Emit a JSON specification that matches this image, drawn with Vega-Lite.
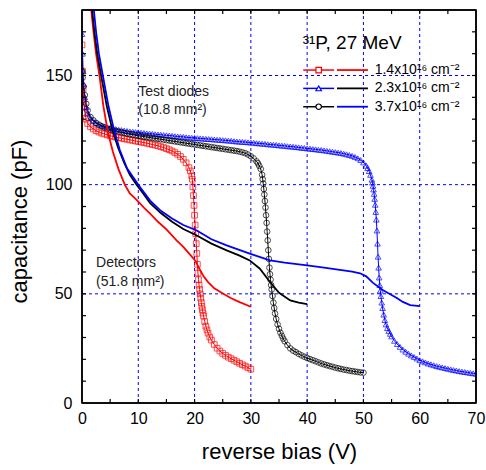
{
  "$schema": "https://vega.github.io/schema/vega-lite/v6.json",
  "width": 394,
  "height": 393,
  "autosize": {"type": "none"},
  "padding": {"left": 82, "top": 10, "right": 10, "bottom": 67},
  "config": {
    "font": "Liberation Sans",
    "view": {"stroke": "#000000", "strokeWidth": 1.5},
    "axis": {
      "labelColor": "#000000", "labelFont": "Liberation Sans", "labelFontSize": 16,
      "titleFont": "Liberation Sans", "titleFontSize": 22, "titleFontWeight": "normal", "titleColor": "#000000",
      "labelOverlap": false, "labelFlush": false, "grid": false
    }
  },
  "datasets": {
    "grid": [
      {"k":"x","g":10},{"k":"x","g":20},{"k":"x","g":30},{"k":"x","g":40},{"k":"x","g":50},{"k":"x","g":60},
      {"k":"y","g":50},{"k":"y","g":100},{"k":"y","g":150}
    ],
    "xt": [
      {"p":5,"m":0},{"p":10,"m":1},{"p":15,"m":0},{"p":20,"m":1},{"p":25,"m":0},{"p":30,"m":1},{"p":35,"m":0},{"p":40,"m":1},{"p":45,"m":0},{"p":50,"m":1},{"p":55,"m":0},{"p":60,"m":1},{"p":65,"m":0}
    ],
    "yt": [
      {"p":10,"m":0},{"p":20,"m":0},{"p":30,"m":0},{"p":40,"m":0},{"p":50,"m":1},{"p":60,"m":0},{"p":70,"m":0},{"p":80,"m":0},{"p":90,"m":0},{"p":100,"m":1},{"p":110,"m":0},{"p":120,"m":0},{"p":130,"m":0},{"p":140,"m":0},{"p":150,"m":1},{"p":160,"m":0},{"p":170,"m":0}
    ],
    "td": [
      {"s":"TD 1.4","v":0,"c":164},{"s":"TD 1.4","v":0.1,"c":152},{"s":"TD 1.4","v":0.2,"c":144},{"s":"TD 1.4","v":0.3,"c":139},{"s":"TD 1.4","v":0.4,"c":135.5},{"s":"TD 1.4","v":0.5,"c":133},{"s":"TD 1.4","v":0.75,"c":130},{"s":"TD 1.4","v":1,"c":128},{"s":"TD 1.4","v":1.5,"c":126.5},{"s":"TD 1.4","v":2,"c":125.5},{"s":"TD 1.4","v":2.5,"c":124.7},{"s":"TD 1.4","v":3,"c":124.1},{"s":"TD 1.4","v":3.5,"c":123.6},{"s":"TD 1.4","v":4,"c":123.2},{"s":"TD 1.4","v":4.5,"c":122.8},{"s":"TD 1.4","v":5,"c":122.4},{"s":"TD 1.4","v":5.5,"c":122.1},{"s":"TD 1.4","v":6,"c":121.8},{"s":"TD 1.4","v":6.5,"c":121.5},{"s":"TD 1.4","v":7,"c":121.3},{"s":"TD 1.4","v":7.5,"c":121.0},{"s":"TD 1.4","v":8,"c":120.8},{"s":"TD 1.4","v":8.5,"c":120.5},{"s":"TD 1.4","v":9,"c":120.3},{"s":"TD 1.4","v":9.5,"c":120.0},{"s":"TD 1.4","v":10,"c":119.8},{"s":"TD 1.4","v":10.5,"c":119.5},{"s":"TD 1.4","v":11,"c":119.3},{"s":"TD 1.4","v":11.5,"c":119.0},{"s":"TD 1.4","v":12,"c":118.7},{"s":"TD 1.4","v":12.5,"c":118.4},{"s":"TD 1.4","v":13,"c":118.1},{"s":"TD 1.4","v":13.5,"c":117.8},{"s":"TD 1.4","v":14,"c":117.4},{"s":"TD 1.4","v":14.5,"c":117.0},{"s":"TD 1.4","v":15,"c":116.5},{"s":"TD 1.4","v":15.5,"c":116.0},{"s":"TD 1.4","v":16,"c":115.4},{"s":"TD 1.4","v":16.5,"c":114.7},{"s":"TD 1.4","v":17,"c":113.9},{"s":"TD 1.4","v":17.5,"c":112.9},{"s":"TD 1.4","v":18,"c":111.6},{"s":"TD 1.4","v":18.5,"c":110.0},{"s":"TD 1.4","v":19,"c":107.8},{"s":"TD 1.4","v":19.25,"c":106.3},{"s":"TD 1.4","v":19.5,"c":104.0},{"s":"TD 1.4","v":19.6,"c":102.5},{"s":"TD 1.4","v":19.7,"c":99},{"s":"TD 1.4","v":19.8,"c":95},{"s":"TD 1.4","v":19.9,"c":90.5},{"s":"TD 1.4","v":20,"c":86},{"s":"TD 1.4","v":20.1,"c":81.5},{"s":"TD 1.4","v":20.2,"c":77.5},{"s":"TD 1.4","v":20.3,"c":73},{"s":"TD 1.4","v":20.4,"c":68.5},{"s":"TD 1.4","v":20.5,"c":63.5},{"s":"TD 1.4","v":20.6,"c":59.5},{"s":"TD 1.4","v":20.7,"c":56.5},{"s":"TD 1.4","v":20.8,"c":54},{"s":"TD 1.4","v":20.9,"c":52},{"s":"TD 1.4","v":21,"c":50},{"s":"TD 1.4","v":21.1,"c":48},{"s":"TD 1.4","v":21.2,"c":46},{"s":"TD 1.4","v":21.3,"c":44.3},{"s":"TD 1.4","v":21.4,"c":42.7},{"s":"TD 1.4","v":21.5,"c":41.2},{"s":"TD 1.4","v":21.6,"c":39.8},{"s":"TD 1.4","v":21.8,"c":37.3},{"s":"TD 1.4","v":22,"c":35.2},{"s":"TD 1.4","v":22.2,"c":33.5},{"s":"TD 1.4","v":22.4,"c":32},{"s":"TD 1.4","v":22.7,"c":30.2},{"s":"TD 1.4","v":23,"c":28.8},{"s":"TD 1.4","v":23.5,"c":26.8},{"s":"TD 1.4","v":24,"c":25.1},{"s":"TD 1.4","v":24.5,"c":23.8},{"s":"TD 1.4","v":25,"c":22.7},{"s":"TD 1.4","v":25.5,"c":21.8},{"s":"TD 1.4","v":26,"c":21},{"s":"TD 1.4","v":26.5,"c":20.3},{"s":"TD 1.4","v":27,"c":19.6},{"s":"TD 1.4","v":27.5,"c":18.9},{"s":"TD 1.4","v":28,"c":18.2},{"s":"TD 1.4","v":28.5,"c":17.5},{"s":"TD 1.4","v":29,"c":16.9},{"s":"TD 1.4","v":29.5,"c":16.2},{"s":"TD 1.4","v":30,"c":15.5},
      {"s":"TD 2.3","v":0,"c":169},{"s":"TD 2.3","v":0.1,"c":160},{"s":"TD 2.3","v":0.2,"c":152},{"s":"TD 2.3","v":0.3,"c":146},{"s":"TD 2.3","v":0.5,"c":140},{"s":"TD 2.3","v":0.75,"c":135.5},{"s":"TD 2.3","v":1,"c":133},{"s":"TD 2.3","v":1.5,"c":130.5},{"s":"TD 2.3","v":2,"c":129.2},{"s":"TD 2.3","v":2.5,"c":128.3},{"s":"TD 2.3","v":3,"c":127.6},{"s":"TD 2.3","v":3.5,"c":127.1},{"s":"TD 2.3","v":4,"c":126.7},{"s":"TD 2.3","v":4.5,"c":126.3},{"s":"TD 2.3","v":5,"c":126},{"s":"TD 2.3","v":5.5,"c":125.7},{"s":"TD 2.3","v":6,"c":125.5},{"s":"TD 2.3","v":6.5,"c":125.2},{"s":"TD 2.3","v":7,"c":125},{"s":"TD 2.3","v":7.5,"c":124.8},{"s":"TD 2.3","v":8,"c":124.6},{"s":"TD 2.3","v":8.5,"c":124.4},{"s":"TD 2.3","v":9,"c":124.3},{"s":"TD 2.3","v":9.5,"c":124.1},{"s":"TD 2.3","v":10,"c":124},{"s":"TD 2.3","v":10.5,"c":123.8},{"s":"TD 2.3","v":11,"c":123.7},{"s":"TD 2.3","v":11.5,"c":123.5},{"s":"TD 2.3","v":12,"c":123.4},{"s":"TD 2.3","v":12.5,"c":123.3},{"s":"TD 2.3","v":13,"c":123.1},{"s":"TD 2.3","v":13.5,"c":123},{"s":"TD 2.3","v":14,"c":122.9},{"s":"TD 2.3","v":14.5,"c":122.7},{"s":"TD 2.3","v":15,"c":122.6},{"s":"TD 2.3","v":15.5,"c":122.5},{"s":"TD 2.3","v":16,"c":122.4},{"s":"TD 2.3","v":16.5,"c":122.2},{"s":"TD 2.3","v":17,"c":122.1},{"s":"TD 2.3","v":17.5,"c":122},{"s":"TD 2.3","v":18,"c":121.9},{"s":"TD 2.3","v":18.5,"c":121.7},{"s":"TD 2.3","v":19,"c":121.6},{"s":"TD 2.3","v":19.5,"c":121.5},{"s":"TD 2.3","v":20,"c":121.4},{"s":"TD 2.3","v":20.5,"c":121.3},{"s":"TD 2.3","v":21,"c":121.2},{"s":"TD 2.3","v":21.5,"c":121.1},{"s":"TD 2.3","v":22,"c":121},{"s":"TD 2.3","v":22.5,"c":120.9},{"s":"TD 2.3","v":23,"c":120.8},{"s":"TD 2.3","v":23.5,"c":120.7},{"s":"TD 2.3","v":24,"c":120.6},{"s":"TD 2.3","v":24.5,"c":120.5},{"s":"TD 2.3","v":25,"c":120.4},{"s":"TD 2.3","v":25.5,"c":120.3},{"s":"TD 2.3","v":26,"c":120.2},{"s":"TD 2.3","v":26.5,"c":120.1},{"s":"TD 2.3","v":27,"c":119.9},{"s":"TD 2.3","v":27.5,"c":119.8},{"s":"TD 2.3","v":28,"c":119.7},{"s":"TD 2.3","v":28.5,"c":119.6},{"s":"TD 2.3","v":29,"c":119.5},{"s":"TD 2.3","v":29.5,"c":119.4},{"s":"TD 2.3","v":30,"c":119.3},{"s":"TD 2.3","v":30.5,"c":119.2},{"s":"TD 2.3","v":31,"c":119},{"s":"TD 2.3","v":31.5,"c":118.9},{"s":"TD 2.3","v":32,"c":118.8},{"s":"TD 2.3","v":32.5,"c":118.7},{"s":"TD 2.3","v":33,"c":118.5},{"s":"TD 2.3","v":33.5,"c":118.4},{"s":"TD 2.3","v":34,"c":118.3},{"s":"TD 2.3","v":34.5,"c":118.2},{"s":"TD 2.3","v":35,"c":118},{"s":"TD 2.3","v":35.5,"c":117.9},{"s":"TD 2.3","v":36,"c":117.8},{"s":"TD 2.3","v":36.5,"c":117.6},{"s":"TD 2.3","v":37,"c":117.5},{"s":"TD 2.3","v":37.5,"c":117.4},{"s":"TD 2.3","v":38,"c":117.2},{"s":"TD 2.3","v":38.5,"c":117.1},{"s":"TD 2.3","v":39,"c":116.9},{"s":"TD 2.3","v":39.5,"c":116.8},{"s":"TD 2.3","v":40,"c":116.6},{"s":"TD 2.3","v":40.5,"c":116.5},{"s":"TD 2.3","v":41,"c":116.3},{"s":"TD 2.3","v":41.5,"c":116.2},{"s":"TD 2.3","v":42,"c":116},{"s":"TD 2.3","v":42.5,"c":115.9},{"s":"TD 2.3","v":43,"c":115.7},{"s":"TD 2.3","v":43.5,"c":115.5},{"s":"TD 2.3","v":44,"c":115.3},{"s":"TD 2.3","v":44.5,"c":115.1},{"s":"TD 2.3","v":45,"c":114.9},{"s":"TD 2.3","v":45.5,"c":114.7},{"s":"TD 2.3","v":46,"c":114.5},{"s":"TD 2.3","v":46.5,"c":114.2},{"s":"TD 2.3","v":47,"c":113.9},{"s":"TD 2.3","v":47.5,"c":113.6},{"s":"TD 2.3","v":48,"c":113.2},{"s":"TD 2.3","v":48.5,"c":112.7},{"s":"TD 2.3","v":49,"c":112.1},{"s":"TD 2.3","v":49.5,"c":111.3},{"s":"TD 2.3","v":50,"c":110.2},{"s":"TD 2.3","v":50.5,"c":108.7},{"s":"TD 2.3","v":50.75,"c":107.6},{"s":"TD 2.3","v":51,"c":106.2},{"s":"TD 2.3","v":51.25,"c":104.5},{"s":"TD 2.3","v":51.5,"c":102.3},{"s":"TD 2.3","v":51.6,"c":101},{"s":"TD 2.3","v":51.7,"c":99.5},{"s":"TD 2.3","v":51.8,"c":97.8},{"s":"TD 2.3","v":51.9,"c":95.8},{"s":"TD 2.3","v":52,"c":93.5},{"s":"TD 2.3","v":52.1,"c":90.8},{"s":"TD 2.3","v":52.2,"c":87.5},{"s":"TD 2.3","v":52.3,"c":84},{"s":"TD 2.3","v":52.4,"c":79},{"s":"TD 2.3","v":52.5,"c":73},{"s":"TD 2.3","v":52.6,"c":67},{"s":"TD 2.3","v":52.7,"c":62},{"s":"TD 2.3","v":52.8,"c":57.5},{"s":"TD 2.3","v":52.9,"c":54},{"s":"TD 2.3","v":53,"c":51.5},{"s":"TD 2.3","v":53.1,"c":49},{"s":"TD 2.3","v":53.25,"c":46},{"s":"TD 2.3","v":53.4,"c":43.5},{"s":"TD 2.3","v":53.6,"c":40.5},{"s":"TD 2.3","v":53.8,"c":38},{"s":"TD 2.3","v":54,"c":36},{"s":"TD 2.3","v":54.25,"c":34.3},{"s":"TD 2.3","v":54.5,"c":33},{"s":"TD 2.3","v":54.75,"c":31.7},{"s":"TD 2.3","v":55,"c":30.5},{"s":"TD 2.3","v":55.5,"c":28.5},{"s":"TD 2.3","v":56,"c":27},{"s":"TD 2.3","v":56.5,"c":25.7},{"s":"TD 2.3","v":57,"c":24.5},{"s":"TD 2.3","v":57.5,"c":23.5},{"s":"TD 2.3","v":58,"c":22.6},{"s":"TD 2.3","v":58.5,"c":21.8},{"s":"TD 2.3","v":59,"c":21.1},{"s":"TD 2.3","v":59.5,"c":20.4},{"s":"TD 2.3","v":60,"c":19.6},{"s":"TD 2.3","v":60.5,"c":19.1},{"s":"TD 2.3","v":61,"c":18.6},{"s":"TD 2.3","v":61.5,"c":18.1},{"s":"TD 2.3","v":62,"c":17.7},{"s":"TD 2.3","v":62.5,"c":17.3},{"s":"TD 2.3","v":63,"c":16.9},{"s":"TD 2.3","v":63.5,"c":16.6},{"s":"TD 2.3","v":64,"c":16.3},{"s":"TD 2.3","v":64.5,"c":16},{"s":"TD 2.3","v":65,"c":15.7},{"s":"TD 2.3","v":65.5,"c":15.4},{"s":"TD 2.3","v":66,"c":15.1},{"s":"TD 2.3","v":66.5,"c":14.9},{"s":"TD 2.3","v":67,"c":14.6},{"s":"TD 2.3","v":67.5,"c":14.4},{"s":"TD 2.3","v":68,"c":14.2},{"s":"TD 2.3","v":68.5,"c":14},{"s":"TD 2.3","v":69,"c":13.8},{"s":"TD 2.3","v":69.5,"c":13.6},{"s":"TD 2.3","v":70,"c":13.4},
      {"s":"TD 3.7","v":0,"c":152},{"s":"TD 3.7","v":0.1,"c":149},{"s":"TD 3.7","v":0.25,"c":145},{"s":"TD 3.7","v":0.5,"c":141},{"s":"TD 3.7","v":0.75,"c":137},{"s":"TD 3.7","v":1,"c":134},{"s":"TD 3.7","v":1.5,"c":131},{"s":"TD 3.7","v":2,"c":129.5},{"s":"TD 3.7","v":2.5,"c":128.3},{"s":"TD 3.7","v":3,"c":127.5},{"s":"TD 3.7","v":3.5,"c":126.8},{"s":"TD 3.7","v":4,"c":126.2},{"s":"TD 3.7","v":4.5,"c":125.7},{"s":"TD 3.7","v":5,"c":125.3},{"s":"TD 3.7","v":5.5,"c":124.9},{"s":"TD 3.7","v":6,"c":124.6},{"s":"TD 3.7","v":6.5,"c":124.3},{"s":"TD 3.7","v":7,"c":124},{"s":"TD 3.7","v":7.5,"c":123.7},{"s":"TD 3.7","v":8,"c":123.4},{"s":"TD 3.7","v":8.5,"c":123.1},{"s":"TD 3.7","v":9,"c":122.9},{"s":"TD 3.7","v":9.5,"c":122.6},{"s":"TD 3.7","v":10,"c":122.4},{"s":"TD 3.7","v":10.5,"c":122.2},{"s":"TD 3.7","v":11,"c":122},{"s":"TD 3.7","v":11.5,"c":121.8},{"s":"TD 3.7","v":12,"c":121.6},{"s":"TD 3.7","v":12.5,"c":121.4},{"s":"TD 3.7","v":13,"c":121.2},{"s":"TD 3.7","v":13.5,"c":121},{"s":"TD 3.7","v":14,"c":120.8},{"s":"TD 3.7","v":14.5,"c":120.6},{"s":"TD 3.7","v":15,"c":120.4},{"s":"TD 3.7","v":15.5,"c":120.2},{"s":"TD 3.7","v":16,"c":120},{"s":"TD 3.7","v":16.5,"c":119.8},{"s":"TD 3.7","v":17,"c":119.6},{"s":"TD 3.7","v":17.5,"c":119.4},{"s":"TD 3.7","v":18,"c":119.2},{"s":"TD 3.7","v":18.5,"c":119},{"s":"TD 3.7","v":19,"c":118.8},{"s":"TD 3.7","v":19.5,"c":118.6},{"s":"TD 3.7","v":20,"c":118.4},{"s":"TD 3.7","v":20.5,"c":118.2},{"s":"TD 3.7","v":21,"c":118},{"s":"TD 3.7","v":21.5,"c":117.8},{"s":"TD 3.7","v":22,"c":117.6},{"s":"TD 3.7","v":22.5,"c":117.4},{"s":"TD 3.7","v":23,"c":117.2},{"s":"TD 3.7","v":23.5,"c":117},{"s":"TD 3.7","v":24,"c":116.8},{"s":"TD 3.7","v":24.5,"c":116.6},{"s":"TD 3.7","v":25,"c":116.4},{"s":"TD 3.7","v":25.5,"c":116.2},{"s":"TD 3.7","v":26,"c":116},{"s":"TD 3.7","v":26.5,"c":115.8},{"s":"TD 3.7","v":27,"c":115.6},{"s":"TD 3.7","v":27.5,"c":115.4},{"s":"TD 3.7","v":28,"c":115.1},{"s":"TD 3.7","v":28.5,"c":114.8},{"s":"TD 3.7","v":29,"c":114.4},{"s":"TD 3.7","v":29.5,"c":113.8},{"s":"TD 3.7","v":30,"c":113},{"s":"TD 3.7","v":30.5,"c":112},{"s":"TD 3.7","v":31,"c":110.7},{"s":"TD 3.7","v":31.25,"c":109.8},{"s":"TD 3.7","v":31.5,"c":108.6},{"s":"TD 3.7","v":31.75,"c":107.2},{"s":"TD 3.7","v":32,"c":104.5},{"s":"TD 3.7","v":32.1,"c":102.5},{"s":"TD 3.7","v":32.2,"c":100.5},{"s":"TD 3.7","v":32.3,"c":98},{"s":"TD 3.7","v":32.4,"c":95.5},{"s":"TD 3.7","v":32.5,"c":92.5},{"s":"TD 3.7","v":32.6,"c":89.5},{"s":"TD 3.7","v":32.7,"c":86},{"s":"TD 3.7","v":32.8,"c":82.5},{"s":"TD 3.7","v":32.9,"c":78.5},{"s":"TD 3.7","v":33,"c":74.5},{"s":"TD 3.7","v":33.1,"c":70},{"s":"TD 3.7","v":33.2,"c":66},{"s":"TD 3.7","v":33.3,"c":62},{"s":"TD 3.7","v":33.4,"c":59},{"s":"TD 3.7","v":33.5,"c":56.5},{"s":"TD 3.7","v":33.6,"c":54},{"s":"TD 3.7","v":33.7,"c":52},{"s":"TD 3.7","v":33.85,"c":49},{"s":"TD 3.7","v":34,"c":46},{"s":"TD 3.7","v":34.15,"c":43.5},{"s":"TD 3.7","v":34.3,"c":41},{"s":"TD 3.7","v":34.5,"c":38.5},{"s":"TD 3.7","v":34.75,"c":36},{"s":"TD 3.7","v":35,"c":34},{"s":"TD 3.7","v":35.25,"c":32.2},{"s":"TD 3.7","v":35.5,"c":30.8},{"s":"TD 3.7","v":35.75,"c":29.5},{"s":"TD 3.7","v":36,"c":28.3},{"s":"TD 3.7","v":36.5,"c":26.5},{"s":"TD 3.7","v":37,"c":25},{"s":"TD 3.7","v":37.5,"c":24},{"s":"TD 3.7","v":38,"c":23.3},{"s":"TD 3.7","v":38.5,"c":22.5},{"s":"TD 3.7","v":39,"c":21.8},{"s":"TD 3.7","v":39.5,"c":21.2},{"s":"TD 3.7","v":40,"c":20.6},{"s":"TD 3.7","v":40.5,"c":20.1},{"s":"TD 3.7","v":41,"c":19.6},{"s":"TD 3.7","v":41.5,"c":19.1},{"s":"TD 3.7","v":42,"c":18.6},{"s":"TD 3.7","v":42.5,"c":18.1},{"s":"TD 3.7","v":43,"c":17.7},{"s":"TD 3.7","v":43.5,"c":17.3},{"s":"TD 3.7","v":44,"c":16.9},{"s":"TD 3.7","v":44.5,"c":16.6},{"s":"TD 3.7","v":45,"c":16.2},{"s":"TD 3.7","v":45.5,"c":15.9},{"s":"TD 3.7","v":46,"c":15.6},{"s":"TD 3.7","v":46.5,"c":15.3},{"s":"TD 3.7","v":47,"c":15.1},{"s":"TD 3.7","v":47.5,"c":14.8},{"s":"TD 3.7","v":48,"c":14.6},{"s":"TD 3.7","v":48.5,"c":14.4},{"s":"TD 3.7","v":49,"c":14.2},{"s":"TD 3.7","v":49.5,"c":14},{"s":"TD 3.7","v":50,"c":13.9}
    ],
    "det": [
      {"s":"DET 1.4","v":1.65,"c":180},{"s":"DET 1.4","v":2,"c":171},{"s":"DET 1.4","v":2.5,"c":160},{"s":"DET 1.4","v":3.1,"c":150},{"s":"DET 1.4","v":3.8,"c":136},{"s":"DET 1.4","v":4.6,"c":124},{"s":"DET 1.4","v":5.5,"c":115},{"s":"DET 1.4","v":6.5,"c":107},{"s":"DET 1.4","v":7.6,"c":100},{"s":"DET 1.4","v":8.5,"c":96},{"s":"DET 1.4","v":9.7,"c":93},{"s":"DET 1.4","v":11,"c":89.5},{"s":"DET 1.4","v":12.1,"c":86.7},{"s":"DET 1.4","v":13.5,"c":83},{"s":"DET 1.4","v":15,"c":79.5},{"s":"DET 1.4","v":16.8,"c":74.5},{"s":"DET 1.4","v":18,"c":71.5},{"s":"DET 1.4","v":19,"c":68.5},{"s":"DET 1.4","v":20.1,"c":65.3},{"s":"DET 1.4","v":21,"c":60.8},{"s":"DET 1.4","v":21.6,"c":58},{"s":"DET 1.4","v":22.4,"c":55.4},{"s":"DET 1.4","v":23.5,"c":52.5},{"s":"DET 1.4","v":25.1,"c":50},{"s":"DET 1.4","v":26.5,"c":48},{"s":"DET 1.4","v":28,"c":46.2},{"s":"DET 1.4","v":30,"c":44.1},
      {"s":"DET 2.3","v":1.8,"c":180},{"s":"DET 2.3","v":2.2,"c":170},{"s":"DET 2.3","v":2.7,"c":160},{"s":"DET 2.3","v":3.4,"c":150},{"s":"DET 2.3","v":4.4,"c":136},{"s":"DET 2.3","v":5.4,"c":125},{"s":"DET 2.3","v":6.4,"c":117},{"s":"DET 2.3","v":7.5,"c":110},{"s":"DET 2.3","v":8.5,"c":104.5},{"s":"DET 2.3","v":9.7,"c":100},{"s":"DET 2.3","v":11,"c":95.5},{"s":"DET 2.3","v":12.1,"c":91.5},{"s":"DET 2.3","v":14,"c":87},{"s":"DET 2.3","v":16,"c":83},{"s":"DET 2.3","v":18,"c":79.7},{"s":"DET 2.3","v":20.4,"c":76.7},{"s":"DET 2.3","v":23,"c":73},{"s":"DET 2.3","v":25.7,"c":69.9},{"s":"DET 2.3","v":28,"c":67.5},{"s":"DET 2.3","v":29.8,"c":65.3},{"s":"DET 2.3","v":31.6,"c":61.5},{"s":"DET 2.3","v":33.4,"c":55.4},{"s":"DET 2.3","v":35,"c":50.5},{"s":"DET 2.3","v":37,"c":47},{"s":"DET 2.3","v":38.5,"c":46},{"s":"DET 2.3","v":40,"c":45.3},
      {"s":"DET 3.7","v":2.1,"c":180},{"s":"DET 3.7","v":2.5,"c":170},{"s":"DET 3.7","v":3,"c":160},{"s":"DET 3.7","v":3.7,"c":150},{"s":"DET 3.7","v":4.7,"c":136},{"s":"DET 3.7","v":5.7,"c":125},{"s":"DET 3.7","v":6.7,"c":116},{"s":"DET 3.7","v":8,"c":107.5},{"s":"DET 3.7","v":10,"c":100},{"s":"DET 3.7","v":12.1,"c":92.7},{"s":"DET 3.7","v":14,"c":88},{"s":"DET 3.7","v":16,"c":84.5},{"s":"DET 3.7","v":18,"c":81.5},{"s":"DET 3.7","v":20.4,"c":79},{"s":"DET 3.7","v":23,"c":75},{"s":"DET 3.7","v":25.7,"c":72.2},{"s":"DET 3.7","v":29.8,"c":68.4},{"s":"DET 3.7","v":33.4,"c":65.3},{"s":"DET 3.7","v":36,"c":64.3},{"s":"DET 3.7","v":40,"c":63},{"s":"DET 3.7","v":43,"c":62},{"s":"DET 3.7","v":45.8,"c":61},{"s":"DET 3.7","v":48,"c":60.2},{"s":"DET 3.7","v":49.4,"c":59.4},{"s":"DET 3.7","v":50.5,"c":58},{"s":"DET 3.7","v":51.7,"c":55},{"s":"DET 3.7","v":53.5,"c":51.6},{"s":"DET 3.7","v":55,"c":49.5},{"s":"DET 3.7","v":56,"c":48},{"s":"DET 3.7","v":57,"c":46.3},{"s":"DET 3.7","v":58.3,"c":44.8},{"s":"DET 3.7","v":60,"c":44.4}
    ],
    "notes": [
      {"v":10,"c":142.5,"t":"Test diodes"},
      {"v":10,"c":134,"t":"(10.8 mm²)"},
      {"v":2.5,"c":64,"t":"Detectors"},
      {"v":2.5,"c":55.3,"t":"(51.8 mm²)"}
    ],
    "leg": [
      {"s":"TD 1.4","d":"DET 1.4","c":152.5,"t":"1.4x10¹⁶ cm⁻²"},
      {"s":"TD 2.3","d":"DET 2.3","c":144.1,"t":"2.3x10¹⁶ cm⁻²"},
      {"s":"TD 3.7","d":"DET 3.7","c":135.7,"t":"3.7x10¹⁶ cm⁻²"}
    ],
    "ttl": [{"v":39.2,"c":164.8,"t":"³¹P, 27 MeV"}]
  },
  "layer": [
    {
      "data": {"name": "grid"},
      "transform": [{"filter": "datum.k == 'x'"}],
      "mark": {"type": "rule", "color": "#0000ff", "strokeWidth": 1, "strokeDash": [3, 3]},
      "encoding": {
        "x": {"field": "g", "type": "quantitative", "scale": {"domain": [0, 70], "nice": false, "zero": false},
          "axis": {"orient": "bottom", "values": [0,10,20,30,40,50,60,70], "zindex": 2,
            "domain": false, "ticks": false,
            "labelPadding": 7,
            "title": "reverse bias (V)", "titlePadding": 15}}
      }
    },
    {
      "data": {"name": "grid"},
      "transform": [{"filter": "datum.k == 'y'"}],
      "mark": {"type": "rule", "color": "#0000ff", "strokeWidth": 1, "strokeDash": [3, 3]},
      "encoding": {
        "y": {"field": "g", "type": "quantitative", "scale": {"domain": [0, 180], "nice": false, "zero": false},
          "axis": {"orient": "left", "values": [0,50,100,150], "zindex": 2,
            "domain": false, "ticks": false,
            "labelPadding": 10,
            "title": "capacitance (pF)", "titlePadding": 14, "titleY": 211}}
      }
    },
    {
      "data": {"name": "td"},
      "mark": {"type": "line", "strokeWidth": 1, "clip": true},
      "encoding": {
        "x": {"field": "v", "type": "quantitative", "axis": null},
        "y": {"field": "c", "type": "quantitative", "axis": null},
        "color": {"field": "s", "type": "nominal", "legend": null,
          "scale": {"domain": ["TD 1.4","TD 2.3","TD 3.7","DET 1.4","DET 2.3","DET 3.7"], "range": ["#ff0000","#0000ff","#000000","#ff0000","#000000","#0000ff"]}},
        "order": {"field": "v", "type": "quantitative"}
      }
    },
    {
      "data": {"name": "td"},
      "mark": {"type": "point", "filled": false, "size": 32, "strokeWidth": 1, "clip": true},
      "encoding": {
        "x": {"field": "v", "type": "quantitative", "axis": null},
        "y": {"field": "c", "type": "quantitative", "axis": null},
        "color": {"field": "s", "type": "nominal", "legend": null},
        "shape": {"field": "s", "type": "nominal", "legend": null,
          "scale": {"domain": ["TD 1.4","TD 2.3","TD 3.7"], "range": ["square","triangle-up","circle"]}}
      }
    },
    {
      "data": {"name": "det"},
      "mark": {"type": "line", "strokeWidth": 1.8, "clip": true},
      "encoding": {
        "x": {"field": "v", "type": "quantitative", "axis": null},
        "y": {"field": "c", "type": "quantitative", "axis": null},
        "color": {"field": "s", "type": "nominal", "legend": null},
        "order": {"field": "v", "type": "quantitative"}
      }
    },
    {
      "data": {"name": "notes"},
      "mark": {"type": "text", "align": "left", "baseline": "middle", "fontSize": 14, "color": "#222222"},
      "encoding": {
        "x": {"field": "v", "type": "quantitative", "axis": null},
        "y": {"field": "c", "type": "quantitative", "axis": null},
        "text": {"field": "t"}
      }
    },
    {
      "data": {"name": "ttl"},
      "mark": {"type": "text", "align": "left", "baseline": "middle", "fontSize": 19, "color": "#000000"},
      "encoding": {
        "x": {"field": "v", "type": "quantitative", "axis": null},
        "y": {"field": "c", "type": "quantitative", "axis": null},
        "text": {"field": "t"}
      }
    },
    {
      "data": {"name": "leg"},
      "mark": {"type": "rule", "strokeWidth": 1.5},
      "encoding": {
        "x": {"datum": 39.3, "type": "quantitative", "axis": null},
        "x2": {"datum": 44.8},
        "y": {"field": "c", "type": "quantitative", "axis": null},
        "color": {"field": "s", "type": "nominal", "legend": null}
      }
    },
    {
      "data": {"name": "leg"},
      "mark": {"type": "point", "filled": false, "fill": "#ffffff", "fillOpacity": 1, "size": 30, "strokeWidth": 1.2},
      "encoding": {
        "x": {"datum": 42.05, "type": "quantitative", "axis": null},
        "y": {"field": "c", "type": "quantitative", "axis": null},
        "color": {"field": "s", "type": "nominal", "legend": null},
        "shape": {"field": "s", "type": "nominal", "legend": null}
      }
    },
    {
      "data": {"name": "leg"},
      "mark": {"type": "rule", "strokeWidth": 1.8},
      "encoding": {
        "x": {"datum": 45.3, "type": "quantitative", "axis": null},
        "x2": {"datum": 50.8},
        "y": {"field": "c", "type": "quantitative", "axis": null},
        "color": {"field": "d", "type": "nominal", "legend": null}
      }
    },
    {
      "data": {"name": "leg"},
      "mark": {"type": "text", "align": "left", "baseline": "middle", "fontSize": 14, "color": "#000000"},
      "encoding": {
        "x": {"datum": 52, "type": "quantitative", "axis": null},
        "y": {"field": "c", "type": "quantitative", "axis": null},
        "text": {"field": "t"}
      }
    },
    {
      "data": {"name": "xt"},
      "mark": {"type": "rule", "color": "#000000", "strokeWidth": 1.2},
      "encoding": {
        "x": {"field": "p", "type": "quantitative", "axis": null},
        "y": {"datum": 0, "type": "quantitative", "axis": null},
        "y2": {"condition": {"test": "datum.m == 1", "value": 387}, "value": 389}
      }
    },
    {
      "data": {"name": "xt"},
      "mark": {"type": "rule", "color": "#000000", "strokeWidth": 1.2},
      "encoding": {
        "x": {"field": "p", "type": "quantitative", "axis": null},
        "y": {"datum": 180, "type": "quantitative", "axis": null},
        "y2": {"condition": {"test": "datum.m == 1", "value": 6}, "value": 4}
      }
    },
    {
      "data": {"name": "yt"},
      "mark": {"type": "rule", "color": "#000000", "strokeWidth": 1.2},
      "encoding": {
        "y": {"field": "p", "type": "quantitative", "axis": null},
        "x": {"datum": 0, "type": "quantitative", "axis": null},
        "x2": {"condition": {"test": "datum.m == 1", "value": 6}, "value": 4}
      }
    },
    {
      "data": {"name": "yt"},
      "mark": {"type": "rule", "color": "#000000", "strokeWidth": 1.2},
      "encoding": {
        "y": {"field": "p", "type": "quantitative", "axis": null},
        "x": {"datum": 70, "type": "quantitative", "axis": null},
        "x2": {"condition": {"test": "datum.m == 1", "value": 388}, "value": 390}
      }
    },
    {
      "data": {"values": [{"a": 0}]},
      "mark": {"type": "rule", "color": "#000000", "strokeWidth": 1.5},
      "encoding": {
        "x": {"datum": 0, "type": "quantitative", "axis": null},
        "x2": {"datum": 70},
        "y": {"datum": 0, "type": "quantitative", "axis": null}
      }
    },
    {
      "data": {"values": [{"a": 0}]},
      "mark": {"type": "rule", "color": "#000000", "strokeWidth": 1.5},
      "encoding": {
        "x": {"datum": 0, "type": "quantitative", "axis": null},
        "x2": {"datum": 70},
        "y": {"datum": 180, "type": "quantitative", "axis": null}
      }
    },
    {
      "data": {"values": [{"a": 0}]},
      "mark": {"type": "rule", "color": "#000000", "strokeWidth": 1.5},
      "encoding": {
        "x": {"datum": 0, "type": "quantitative", "axis": null},
        "y": {"datum": 0, "type": "quantitative", "axis": null},
        "y2": {"datum": 180}
      }
    },
    {
      "data": {"values": [{"a": 0}]},
      "mark": {"type": "rule", "color": "#000000", "strokeWidth": 1.5},
      "encoding": {
        "x": {"datum": 70, "type": "quantitative", "axis": null},
        "y": {"datum": 0, "type": "quantitative", "axis": null},
        "y2": {"datum": 180}
      }
    }
  ],
  "resolve": {"axis": {"x": "independent", "y": "independent"}}
}
